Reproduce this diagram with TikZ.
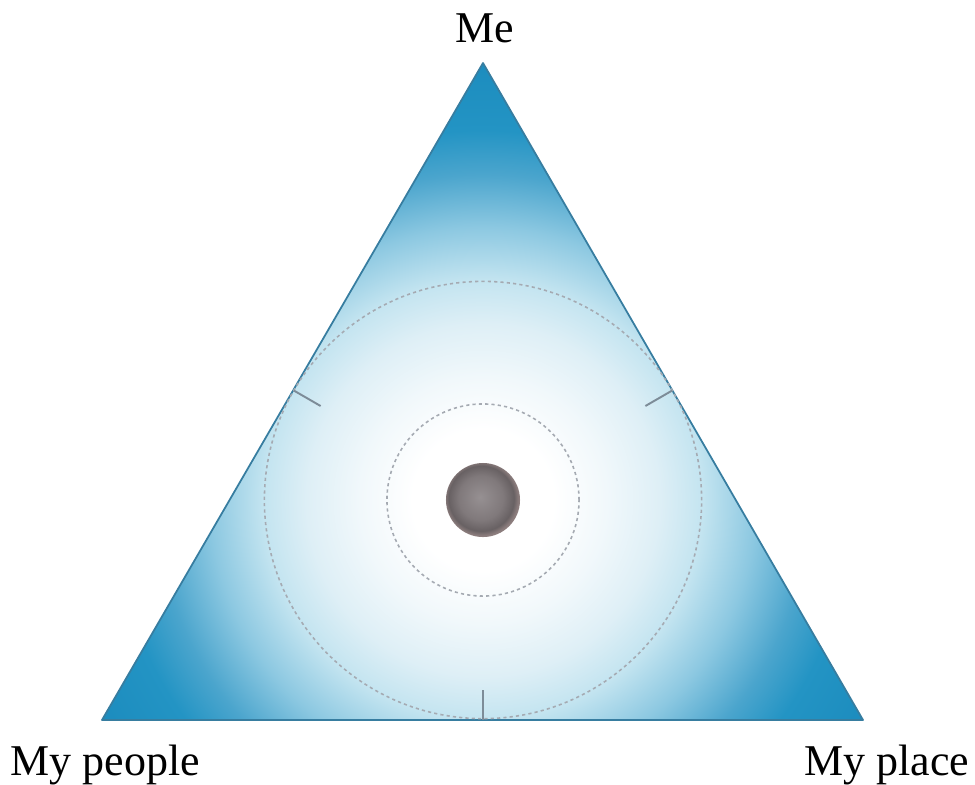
\documentclass[tikz,border=0pt]{standalone}
\usepackage{fontspec}
\setmainfont{Liberation Serif}
\definecolor{s1}{RGB}{241,248,251}
\definecolor{s2}{RGB}{222,239,246}
\definecolor{s3}{RGB}{195,228,240}
\definecolor{s4}{RGB}{140,200,225}
\definecolor{s5}{RGB}{75,165,205}
\definecolor{s6}{RGB}{35,148,196}
\definecolor{s7}{RGB}{28,140,190}
\definecolor{edgec}{RGB}{55,125,160}
\definecolor{dotc}{RGB}{165,170,178}
\definecolor{tickc}{RGB}{125,140,152}
\definecolor{b1}{RGB}{150,144,146}
\definecolor{b2}{RGB}{128,121,123}
\definecolor{b3}{RGB}{104,97,99}
\definecolor{b4}{RGB}{140,125,125}
\pgfdeclareradialshading{trishade}{\pgfpoint{0bp}{0bp}}{color(0bp)=(white); color(4bp)=(white); color(7bp)=(s1); color(10bp)=(s2); color(12.5bp)=(s3); color(15.5bp)=(s4); color(18.5bp)=(s5); color(21bp)=(s6); color(25bp)=(s7); color(50bp)=(s7)}
\pgfdeclareradialshading{ballshade}{\pgfpoint{-2bp}{2bp}}{color(0bp)=(b1); color(15bp)=(b2); color(22bp)=(b3); color(25bp)=(b4); color(50bp)=(b4)}
\tikzset{
  lbl/.style={font=\fontsize{12.5}{15}\selectfont, inner sep=0pt, text=black},
  dotcircle/.style={draw=dotc, line width=0.45pt, dash pattern=on 0.9pt off 0.9pt},
  tickmark/.style={draw=tickc, line width=0.55pt},
}
\begin{document}
\begin{tikzpicture}[x=0.01cm, y=-0.01cm]
\useasboundingbox (0,0) rectangle (975,784);
\coordinate (A) at (483,63);
\coordinate (L) at (102,720);
\coordinate (R) at (863,720);
\coordinate (O) at (483,500);
\begin{scope}
  \clip (A) -- (L) -- (R) -- cycle;
  \shade[shading=trishade] (O) circle[radius=4.4cm];
\end{scope}
\draw[edgec, line width=0.5pt, line join=round] (A) -- (L) -- (R) -- cycle;
\draw[dotcircle] (O) circle[radius=2.185cm];
\draw[dotcircle] (O) circle[radius=0.96cm];
% tick marks at tangent points
\coordinate (tB) at (483,720);
\coordinate (tBi) at (483,690);
\coordinate (tL) at (293.8,390.5);
\coordinate (tLi) at (320.6,406);
\coordinate (tR) at (672.2,390.5);
\coordinate (tRi) at (645.4,406);
\draw[tickmark] (tB) -- (tBi);
\draw[tickmark] (tL) -- (tLi);
\draw[tickmark] (tR) -- (tRi);
% ball
\shade[shading=ballshade] (O) circle[radius=0.37cm];
\node[lbl, anchor=base] (me) at (485,42) {Me};
\node[lbl, anchor=base west] (people) at (10,775) {My people};
\node[lbl, anchor=base east] (place) at (970,775) {My place};
\end{tikzpicture}
\end{document}
